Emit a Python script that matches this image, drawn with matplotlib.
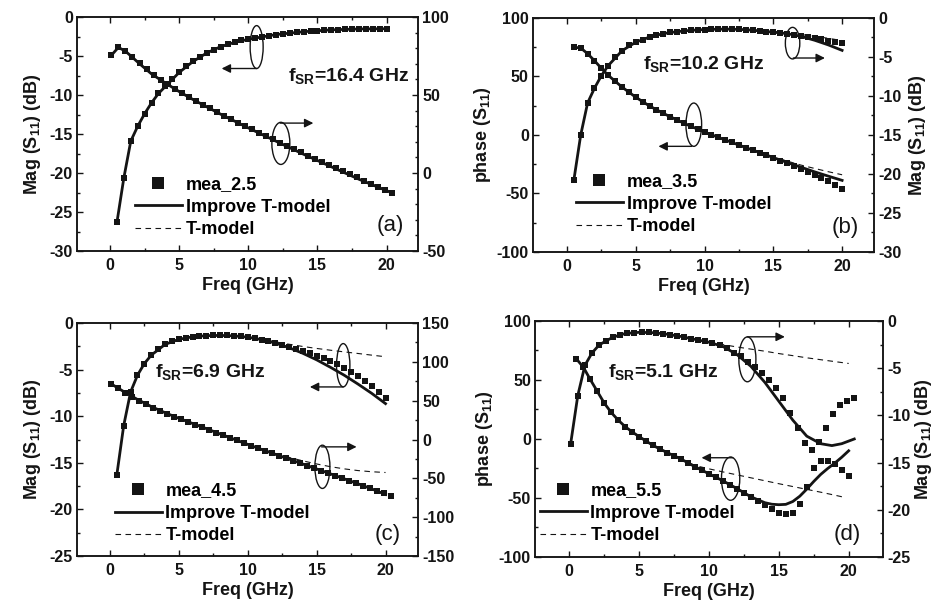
import numpy as np
import matplotlib
matplotlib.use('Agg')
import matplotlib.pyplot as plt
from matplotlib.patches import Ellipse
from matplotlib.lines import Line2D
from matplotlib.ticker import MultipleLocator

plt.rcParams['font.family'] = ['Liberation Sans', 'DejaVu Sans']
plt.rcParams['font.weight'] = 'bold'
plt.rcParams['axes.labelweight'] = 'bold'
plt.rcParams['axes.unicode_minus'] = False
plt.rcParams['mathtext.fontset'] = 'custom'
plt.rcParams['mathtext.rm'] = 'Liberation Sans:bold'
plt.rcParams['mathtext.default'] = 'rm'

INK = '#141414'

# measurement frequency grids (GHz)
f_a = np.arange(0.5, 20.01, 0.5)       # 40 points
f_b = np.linspace(0.1, 20.4, 41)       # 41 points

# ---------------- (a) mea_2.5 ----------------
a_mag_meas = [-26.3, -20.6, -15.9, -14.0, -12.4, -11.0, -9.8, -8.9, -8.0, -7.1,
              -6.3, -5.7, -5.1, -4.6, -4.2, -3.8, -3.5, -3.25, -3.0, -2.85,
              -2.7, -2.55, -2.4, -2.25, -2.15, -2.05, -1.95, -1.88, -1.8, -1.74,
              -1.68, -1.64, -1.6, -1.57, -1.55, -1.53, -1.52, -1.51, -1.5, -1.5]
a_ph_meas = [75.5, 80.8, 78.2, 74.3, 70.3, 66.5, 63.0, 59.8, 56.8, 54.0,
             51.3, 48.7, 46.2, 43.8, 41.4, 39.1, 36.8, 34.5, 32.3, 30.1,
             27.9, 25.8, 23.7, 21.6, 19.5, 17.4, 15.3, 13.3, 11.2, 9.2,
             7.2, 5.2, 3.2, 1.2, -0.8, -2.8, -4.8, -6.8, -8.8, -10.8, -12.8]
a_fm = [0.5, 1, 1.5, 2, 2.5, 3, 3.5, 4, 5, 6, 7, 8, 9, 10, 12, 14, 16, 18, 20]
a_mag_imp = [-26.3, -20.6, -15.9, -14.0, -12.4, -11.0, -9.8, -8.9, -7.1, -5.7,
             -4.6, -3.8, -3.25, -2.85, -2.25, -1.88, -1.64, -1.53, -1.5]
a_fp = [0.1, 0.6, 1.1, 1.6, 2.1, 3, 4, 5, 6, 8, 10, 12, 14, 16, 18, 20.4]
a_ph_imp = [75.5, 80.5, 78.2, 74.3, 70.3, 63.5, 57.7, 52.2, 47.1, 37.7,
            28.9, 20.4, 12.0, 4.0, -4.0, -12.8]

# ---------------- (b) mea_3.5 ----------------
b_ph_meas = [75.0, 74.4, 69.5, 63.5, 57.0, 51.0, 46.0, 41.0, 36.5, 32.3,
             28.5, 24.8, 21.5, 18.5, 15.6, 12.8, 10.0, 7.5, 5.0, 2.5,
             0.2, -2.0, -4.2, -6.4, -8.6, -10.8, -13.0, -15.2, -17.4, -19.6,
             -21.9, -24.2, -26.6, -29.0, -31.5, -34.0, -36.6, -39.3, -42.4, -45.8]
b_mag_meas = [-20.8, -15.0, -10.9, -9.0, -7.4, -6.1, -5.0, -4.2, -3.5, -3.1,
              -2.8, -2.45, -2.2, -2.0, -1.85, -1.75, -1.65, -1.58, -1.52, -1.48,
              -1.45, -1.43, -1.42, -1.43, -1.45, -1.5, -1.57, -1.65, -1.75, -1.85,
              -1.95, -2.05, -2.15, -2.3, -2.45, -2.6, -2.75, -2.9, -3.05, -3.2]
b_fm = [0.5, 1, 1.5, 2, 2.5, 3, 4, 5, 6, 7, 8, 9, 10, 11, 12, 13, 14, 15, 16, 17, 18, 19, 20]
b_ph_imp = [75.0, 74.4, 69.5, 63.5, 57.0, 51.0, 41.0, 32.3, 24.8, 18.5, 12.8, 7.5,
            2.5, -2.0, -6.4, -10.8, -15.0, -19.3, -23.5, -27.5, -31.5, -35.2, -38.8]
b_mag_imp = [-20.8, -15.0, -10.9, -9.0, -7.4, -6.1, -4.2, -3.1, -2.45, -2.0, -1.75, -1.58,
             -1.48, -1.43, -1.43, -1.5, -1.65, -1.82, -2.0, -2.35, -2.85, -3.45, -4.15]
b_ft = [12, 13, 14, 15, 16, 17, 18, 19, 20]
b_ph_t = [-6.4, -10.6, -14.6, -18.6, -22.3, -25.7, -28.6, -31.4, -34.0]
b_mag_t = [-1.43, -1.5, -1.62, -1.75, -1.92, -2.12, -2.35, -2.6, -2.9]

# ---------------- (c) mea_4.5 ----------------
c_mag_meas = [-16.3, -11.0, -7.4, -5.6, -4.35, -3.45, -2.75, -2.3, -1.96, -1.75,
              -1.6, -1.48, -1.4, -1.36, -1.34, -1.33, -1.34, -1.38, -1.44, -1.52,
              -1.64, -1.78, -1.94, -2.12, -2.32, -2.53, -2.76, -3.0, -3.25, -3.5,
              -3.78, -4.1, -4.45, -4.85, -5.25, -5.7, -6.2, -6.75, -7.35, -8.1]
c_ph_meas = [71.5, 66.0, 60.5, 55.2, 50.2, 45.4, 41.2, 37.2, 33.3, 29.6,
             26.0, 22.6, 19.2, 15.8, 12.4, 9.0, 5.6, 2.2, -1.2, -4.6,
             -7.9, -11.2, -14.4, -17.6, -20.8, -24.0, -27.2, -30.4, -33.6, -36.8,
             -40.0, -43.2, -46.4, -49.6, -52.8, -56.0, -59.3, -62.6, -66.0, -69.5, -73.0]
c_fm = [0.5, 1, 1.5, 2, 2.5, 3, 4, 5, 6, 7, 8, 9, 10, 11, 12, 13, 14, 15, 16, 17, 18, 19, 20]
c_mag_imp = [-16.3, -11.0, -7.4, -5.6, -4.35, -3.45, -2.3, -1.75, -1.48, -1.36, -1.33, -1.38,
             -1.52, -1.78, -2.15, -2.65, -3.25, -3.95, -4.75, -5.6, -6.55, -7.55, -8.65]
c_fp = [0.1, 1, 2, 3, 4, 5, 6, 7, 8, 9, 10, 11, 12, 13, 14, 15, 16, 17, 18, 19, 20]
c_ph_imp = [71.5, 61.7, 51.5, 42.4, 34.5, 27.3, 20.6, 14.0, 7.1, 0.4, -6.3,
            -12.8, -19.0, -25.3, -31.6, -37.9, -44.2, -50.6, -57.0, -63.6, -70.8]
c_ft = [10, 11, 12, 13, 14, 15, 16, 17, 18, 19, 20]
c_mag_t = [-1.52, -1.75, -2.02, -2.28, -2.52, -2.73, -2.92, -3.1, -3.27, -3.45, -3.62]
c_ph_t = [-6.3, -12.5, -18.0, -23.0, -27.5, -31.5, -35.0, -37.8, -40.0, -41.5, -42.5]

# ---------------- (d) mea_5.5 ----------------
d_ph_meas = [68.0, 61.0, 50.5, 40.5, 30.5, 22.5, 16.0, 10.5, 6.0, 2.0,
             -1.5, -5.5, -8.5, -11.5, -14.2, -17.0, -20.0, -23.5, -26.5, -29.5,
             -32.5, -35.5, -39.0, -42.0, -45.5, -49.0, -52.5, -56.0, -59.5, -62.5,
             -64.0, -63.0, -55.0, -40.5, -25.0, -18.5, -18.5, -21.5, -26.5, -31.5]
d_mag_meas = [-13.0, -7.9, -4.7, -3.4, -2.55, -2.1, -1.7, -1.45, -1.3, -1.23,
              -1.2, -1.2, -1.26, -1.33, -1.44, -1.56, -1.7, -1.86, -2.0, -2.13,
              -2.3, -2.55, -2.9, -3.4, -3.75, -4.3, -4.9, -5.5, -6.2, -7.1,
              -8.2, -9.7, -11.3, -12.9, -13.7, -12.8, -11.3, -9.9, -8.9, -8.5, -8.15]
d_fp = [0.5, 1, 1.5, 2, 2.5, 3, 3.5, 4, 4.5, 5, 6, 7, 8, 9, 10, 11, 12, 13, 14, 14.5,
        15, 15.5, 16, 16.5, 17, 17.5, 18, 18.5, 19, 19.5, 20]
d_ph_imp = [68, 61, 50.5, 40.5, 30.5, 22.5, 16, 10.5, 6, 2, -5.5, -11.5, -17, -23.5,
            -29.5, -35.5, -42, -49, -54, -55.3, -55.7, -55.4, -53, -48.5, -42.5, -36,
            -30, -25, -20.5, -15.5, -10]
d_fm = [0.1, 0.61, 1.12, 1.62, 2.13, 2.64, 3.15, 4, 5, 6, 7, 8, 9, 10, 11, 12, 13,
        14, 15, 16, 17, 18, 18.8, 19.5, 20.4]
d_mag_imp = [-13.0, -7.9, -4.7, -3.4, -2.55, -2.1, -1.7, -1.33, -1.2, -1.24, -1.4, -1.64,
             -1.95, -2.25, -2.7, -3.55, -4.8, -6.5, -8.5, -10.5, -12.2, -13.0, -13.2,
             -13.0, -12.5]
d_ftp = [8, 9, 10, 11, 12, 13, 14, 15, 16, 17, 18, 19, 19.6]
d_ph_t = [-17, -22.5, -25.3, -27.9, -30.4, -32.9, -35.4, -37.9, -40.3, -42.7, -45.1, -47.6, -49.2]
d_ftm = [10, 11, 12, 13, 14, 15, 16, 17, 18, 19, 20]
d_mag_t = [-2.2, -2.5, -2.75, -2.98, -3.2, -3.45, -3.67, -3.9, -4.1, -4.3, -4.5]


fig = plt.figure(figsize=(9.39, 6.06), dpi=100)


def make_panel(rect, xlim, yl, yr, loc_l, loc_r):
    ax = fig.add_axes(rect)
    ax2 = ax.twinx()
    ax.set_xlim(*xlim)
    ax.set_ylim(*yl)
    ax2.set_ylim(*yr)
    ax.xaxis.set_major_locator(MultipleLocator(5))
    ax.xaxis.set_minor_locator(MultipleLocator(2.5))
    ax.yaxis.set_major_locator(MultipleLocator(loc_l[0]))
    ax.yaxis.set_minor_locator(MultipleLocator(loc_l[1]))
    ax2.yaxis.set_major_locator(MultipleLocator(loc_r[0]))
    ax2.yaxis.set_minor_locator(MultipleLocator(loc_r[1]))
    for a in (ax, ax2):
        a.tick_params(which='both', direction='in', labelsize=11.5, colors=INK, width=1, pad=3)
        a.tick_params(which='major', length=4)
        a.tick_params(which='minor', length=2.5)
        for s in a.spines.values():
            s.set_linewidth(1.1)
            s.set_color(INK)
    ax.tick_params(which='both', top=True, right=False)
    ax.tick_params(axis='x', pad=5)
    ax.set_xlabel('Freq (GHz)', fontsize=13, color=INK, labelpad=3)
    return ax, ax2


def curves(ax, fm, meas, fi, imp, ft=None, tmod=None):
    if ft is not None:
        ax.plot(ft, tmod, color=INK, lw=0.8, ls=(0, (5, 4)))
    ax.plot(fi, imp, color=INK, lw=2.0)
    ax.plot(fm, meas, 's', ms=4.8, color=INK, mew=0)


def marks(ax, ell, arrow, label, fsr, fsr_xy, leg_xy, tag_xy):
    for (cx, cy, w, h) in ell:
        ax.add_patch(Ellipse((cx, cy), w, h, fill=False, lw=1.0, ec=INK, zorder=6))
    for (x1, x2, y) in arrow:
        ax.annotate('', xy=(x2, y), xytext=(x1, y),
                    arrowprops=dict(arrowstyle='-|>', color=INK, lw=1.0,
                                    mutation_scale=13, shrinkA=0, shrinkB=0))
    ax.text(fsr_xy[0], fsr_xy[1], r'f$_{SR}$=' + fsr + ' GHz', transform=ax.transAxes,
            ha='left', va='center', fontsize=14, color=INK)
    handles = [Line2D([], [], marker='s', ls='none', ms=8, color=INK, mew=0),
               Line2D([], [], lw=2.0, color=INK),
               Line2D([], [], lw=0.8, ls=(0, (5, 4)), color=INK)]
    ax.legend(handles, [label, 'Improve T-model', 'T-model'], loc='center left',
              bbox_to_anchor=leg_xy, frameon=False, fontsize=13, handlelength=2.6,
              handletextpad=0.2, labelspacing=0.3, borderpad=0, borderaxespad=0)
    ax.text(tag_xy[0], tag_xy[1], tag, transform=ax.transAxes, ha='center', va='center',
            fontsize=16, fontweight='normal', color=INK)


mag_label = 'Mag (S$_{11}$) (dB)'
ph_label = 'phase (S$_{11}$)'

# (a)
ax, ax2 = make_panel([0.0820, 0.5858, 0.3632, 0.3861], (-2.39, 22.27), (-30, 0), (-50, 100), (5, 2.5), (50, 10))
curves(ax, f_a, a_mag_meas, a_fm, a_mag_imp)
curves(ax2, f_b, a_ph_meas, a_fp, a_ph_imp)
ax.set_ylabel(mag_label, fontsize=13, color=INK, labelpad=5)
tag = '(a)'
marks(ax, [(10.6, -3.85, 0.94, 5.5), (12.35, -16.2, 1.3, 5.4)],
      [(10.6, 8.07, -6.6), (12.3, 14.7, -13.6)],
      'mea_2.5', '16.4', (0.620, 0.748), (0.170, 0.188), (0.918, 0.107))

# (b)
ax, ax2 = make_panel([0.5676, 0.5842, 0.3632, 0.3861], (-2.47, 22.32), (-100, 100), (-30, 0), (50, 25), (5, 2.5))
curves(ax, f_a, b_ph_meas, b_fm, b_ph_imp, b_ft, b_ph_t)
curves(ax2, f_a, b_mag_meas, b_fm, b_mag_imp, b_ft, b_mag_t)
ax.set_ylabel(ph_label, fontsize=13, color=INK, labelpad=3)
ax2.set_ylabel(mag_label, fontsize=13, color=INK, labelpad=4)
tag = '(b)'
marks(ax, [(16.4, 78.5, 1.05, 27.0), (9.22, 8.8, 1.14, 37.0)],
      [(16.45, 18.75, 65.8), (9.07, 6.65, -9.7)],
      'mea_3.5', '10.2', (0.323, 0.803), (0.126, 0.205), (0.917, 0.105))

# (c)
ax, ax2 = make_panel([0.0820, 0.0825, 0.3632, 0.3845], (-2.39, 22.36), (-25, 0), (-150, 150), (5, 2.5), (50, 25))
curves(ax, f_a, c_mag_meas, c_fm, c_mag_imp, c_ft, c_mag_t)
curves(ax2, f_b, c_ph_meas, c_fp, c_ph_imp, c_ft, c_ph_t)
ax.set_ylabel(mag_label, fontsize=13, color=INK, labelpad=5)
tag = '(c)'
marks(ax, [(16.93, -4.53, 0.97, 4.64), (15.42, -15.43, 1.09, 4.64)],
      [(16.93, 14.51, -6.86), (15.36, 17.9, -13.29)],
      'mea_4.5', '6.9', (0.229, 0.788), (0.111, 0.183), (0.911, 0.091))

# (d)
ax, ax2 = make_panel([0.5698, 0.0809, 0.3706, 0.3894], (-2.45, 22.46), (-100, 100), (-25, 0), (50, 25), (5, 2.5))
curves(ax, f_a, d_ph_meas, d_fp, d_ph_imp, d_ftp, d_ph_t)
curves(ax2, f_b, d_mag_meas, d_fm, d_mag_imp, d_ftm, d_mag_t)
ax.set_ylabel(ph_label, fontsize=13, color=INK, labelpad=3)
ax2.set_ylabel(mag_label, fontsize=13, color=INK, labelpad=2)
tag = '(d)'
marks(ax, [(12.75, 67.5, 1.22, 38.0), (11.55, -33.6, 1.31, 36.7)],
      [(12.75, 15.43, 86.6), (11.7, 9.47, -15.9)],
      'mea_5.5', '5.1', (0.211, 0.783), (0.014, 0.185), (0.896, 0.094))

fig.savefig('out.png', dpi=100)
